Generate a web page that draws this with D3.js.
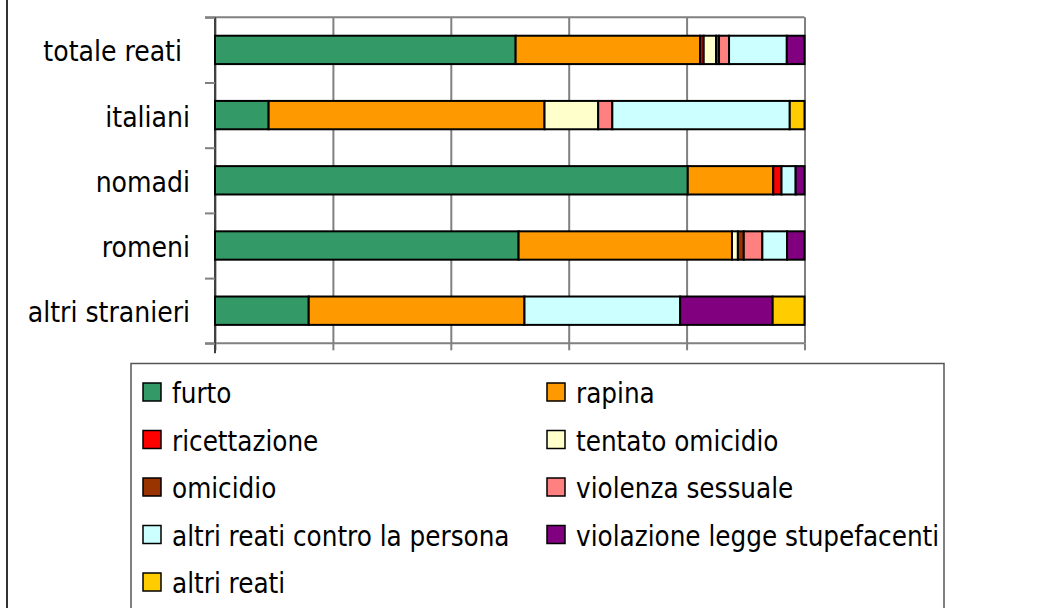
<!DOCTYPE html>
<html>
<head>
<meta charset="utf-8">
<script src="https://cdn.jsdelivr.net/npm/d3@7"></script>
<style>
  body { margin: 0; background: #fff; }
  svg { display: block; font-family: "DejaVu Sans Condensed", "Liberation Sans Narrow", sans-serif; }
</style>
</head>
<body>
<div id="chart"></div>
<script>
// categories (top to bottom) and crime types (stack order)
const categories = ["totale reati ", "italiani", "nomadi", "romeni", "altri stranieri"];
const crimes = ["furto", "rapina", "ricettazione", "tentato omicidio", "omicidio",
  "violenza sessuale", "altri reati contro la persona", "violazione legge stupefacenti", "altri reati"];
const colors = ["#339966", "#FF9900", "#FF0000", "#FFFFCC", "#993300",
  "#FF8080", "#CCFFFF", "#800080", "#FFCC00"];

// percentage shares, one array per crime type, in category order
const furto        = [51.0,  9.1, 80.2, 51.5, 15.9];
const rapina       = [31.3, 46.8, 14.5, 36.2, 36.6];
const ricettazione = [ 0.6,  0.0,  1.4,  0.0,  0.0];
const tentato      = [ 2.1,  9.1,  0.0,  1.0,  0.0];
const omicidio     = [ 0.5,  0.0,  0.0,  1.0,  0.0];
const violenza     = [ 1.7,  2.4,  0.0,  3.15, 0.0];
const controPers   = [ 9.8, 30.1,  2.4,  4.2, 26.4];
const stupefacenti = [ 3.0,  0.0,  1.5,  2.95, 15.7];
const altriReati   = [ 0.0,  2.5,  0.0,  0.0,  5.4];
const series = [furto, rapina, ricettazione, tentato, omicidio, violenza, controPers, stupefacenti, altriReati];

const xTicks = [0, 20, 40, 60, 80, 100];

const width = 1058, height = 608;
const plotL = 215, plotR = 804.5, plotT = 17.3, plotB = 343.3;

const svg = d3.select("#chart").append("svg")
  .attr("width", width)
  .attr("height", height);

// left frame edge
svg.append("line")
  .attr("x1", 7).attr("x2", 7).attr("y1", 0).attr("y2", height)
  .attr("stroke", "#333").attr("stroke-width", 2);

const x = d3.scaleLinear().domain([0, 100]).range([plotL, plotR]);
const y = d3.scaleBand().domain(categories).range([plotT, plotB])
  .paddingInner(0.565).paddingOuter(0.2825);
const yEdge = d3.scaleLinear().domain([0, categories.length]).range([plotT, plotB]);

// vertical gridlines
svg.append("g")
  .attr("transform", `translate(0,${plotB})`)
  .call(d3.axisBottom(x).tickValues(xTicks).tickSize(-(plotB - plotT)).tickFormat(""))
  .call(g => g.select(".domain").remove())
  .call(g => g.selectAll(".tick line").attr("stroke", "#808080").attr("stroke-width", 2));

// x axis with ticks below
svg.append("g")
  .attr("transform", `translate(0,${plotB})`)
  .call(d3.axisBottom(x).tickValues(xTicks).tickSizeInner(7).tickSizeOuter(0).tickFormat(""))
  .call(g => g.select(".domain").attr("stroke", "#808080").attr("stroke-width", 2)
    .attr("d", `M${plotL - 10},0H${plotR}`))
  .call(g => g.selectAll(".tick line").attr("stroke", "#808080").attr("stroke-width", 2));

// top border line
svg.append("line")
  .attr("x1", plotL - 10).attr("x2", plotR).attr("y1", plotT).attr("y2", plotT)
  .attr("stroke", "#808080").attr("stroke-width", 2);

// y axis with ticks between categories
svg.append("g")
  .attr("transform", `translate(${plotL},0)`)
  .call(d3.axisLeft(yEdge).tickValues(d3.range(categories.length + 1)).tickSizeInner(10).tickSizeOuter(0).tickFormat(""))
  .call(g => g.select(".domain").attr("stroke", "#404040").attr("stroke-width", 2)
    .attr("d", `M0,${plotT}V${plotB + 10}`))
  .call(g => g.selectAll(".tick line").attr("stroke", "#808080").attr("stroke-width", 2));

// stacked bars
const rows = categories.map((c, i) => {
  const r = { cat: c };
  crimes.forEach((k, j) => r[k] = series[j][i]);
  return r;
});
const stacked = d3.stack().keys(crimes)(rows);

svg.append("g").selectAll("g")
  .data(stacked)
  .join("g")
  .attr("fill", (d, i) => colors[i])
  .selectAll("rect")
  .data(d => d.filter(s => s[1] - s[0] > 0))
  .join("rect")
  .attr("x", d => x(d[0]))
  .attr("width", d => x(d[1]) - x(d[0]))
  .attr("y", d => y(d.data.cat))
  .attr("height", y.bandwidth())
  .attr("stroke", "#000")
  .attr("stroke-width", 2);

// category labels
svg.append("g").selectAll("text")
  .data(categories)
  .join("text")
  .attr("x", 190)
  .attr("y", d => y(d) + y.bandwidth() / 2 + 2)
  .attr("text-anchor", "end")
  .attr("dominant-baseline", "central")
  .style("white-space", "pre")
  .style("font-size", "28px")
  .attr("fill", "#000")
  .text(d => d);

// legend
const legend = svg.append("g");
legend.append("rect")
  .attr("x", 131).attr("y", 363.5)
  .attr("width", 813).attr("height", 250)
  .attr("fill", "none").attr("stroke", "#555").attr("stroke-width", 1.5);

const item = legend.selectAll("g.item")
  .data(crimes)
  .join("g")
  .attr("class", "item")
  .attr("transform", (d, i) => `translate(${i % 2 ? 547 : 143},${392 + Math.floor(i / 2) * 47.5})`);

item.append("rect")
  .attr("x", 0).attr("y", -9)
  .attr("width", 18).attr("height", 18)
  .attr("fill", (d, i) => colors[i])
  .attr("stroke", "#000").attr("stroke-width", 1.5);

item.append("text")
  .attr("x", 29)
  .attr("y", 1)
  .attr("dominant-baseline", "central")
  .style("font-size", "27.5px")
  .attr("fill", "#000")
  .text(d => d);
</script>
</body>
</html>
